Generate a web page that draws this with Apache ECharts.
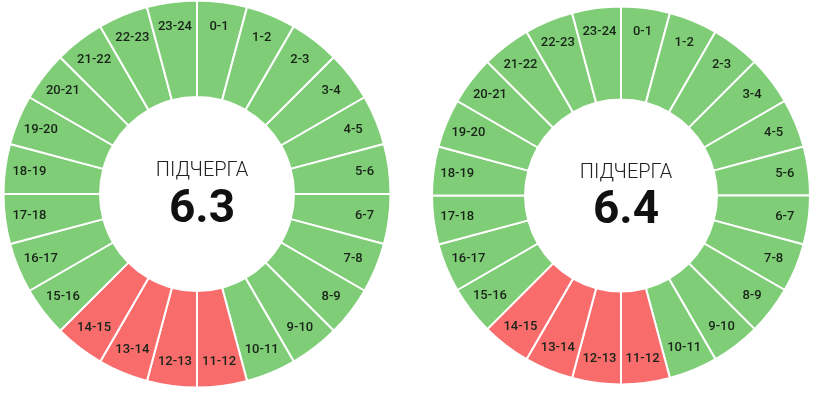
<!DOCTYPE html>
<html>
<head>
<meta charset="utf-8">
<script src="https://cdn.jsdelivr.net/npm/echarts@6/dist/echarts.min.js"></script>
<style>
html,body{margin:0;padding:0;background:#fff;}
#chart{width:813px;height:395px;}
</style>
</head>
<body>
<div id="chart"></div>
<script>
// Hour slots
const hours = ['0-1','1-2','2-3','3-4','4-5','5-6','6-7','7-8','8-9','9-10','10-11','11-12',
               '12-13','13-14','14-15','15-16','16-17','17-18','18-19','19-20','20-21','21-22','22-23','23-24'];
// 1 = outage (red), 0 = power on (green)
const outage63 = [0,0,0,0,0,0,0,0,0,0,0,1,1,1,1,0,0,0,0,0,0,0,0,0];
const outage64 = [0,0,0,0,0,0,0,0,0,0,0,1,1,1,1,0,0,0,0,0,0,0,0,0];
const groupTitle = 'ПІДЧЕРГА';
const groupNames = ['6.3', '6.4'];

const GREEN = '#7fcd77';
const RED = '#f96c6c';

const charts = [
  {outage: outage63, name: groupNames[0], center: [197, 194], r0: 97, r: 193.5},
  {outage: outage64, name: groupNames[1], center: [621, 195.5], r0: 96, r: 189}
];

const series = [];
const titles = [];
charts.forEach(c => {
  series.push({
    type: 'pie',
    center: c.center,
    radius: [c.r0, c.r],
    startAngle: 90,
    clockwise: true,
    silent: true,
    animation: false,
    label: {show: false},
    labelLine: {show: false},
    itemStyle: {borderColor: '#ffffff', borderWidth: 2},
    data: hours.map((h, i) => ({
      name: h, value: 1,
      itemStyle: {color: c.outage[i] ? RED : GREEN}
    }))
  });
  series.push({
    type: 'pie',
    center: c.center,
    radius: [c.r * 0.716, c.r],
    startAngle: 90,
    clockwise: true,
    silent: true,
    animation: false,
    itemStyle: {color: 'rgba(0,0,0,0)', borderWidth: 0},
    label: {
      show: true, position: 'inside', formatter: '{b}',
      color: '#182418', fontSize: 13, fontWeight: 500,
      fontFamily: 'Roboto'
    },
    labelLine: {show: false},
    data: hours.map(h => ({name: h, value: 1}))
  });
  titles.push({
    text: groupTitle,
    left: c.center[0], top: c.center[1] - 38,
    textAlign: 'center',
    textStyle: {fontFamily: 'Roboto', fontWeight: 300, fontSize: 20, color: '#222'}
  });
  titles.push({
    text: c.name,
    left: c.center[0], top: c.center[1] - 12,
    textAlign: 'center',
    textStyle: {fontFamily: 'Roboto', fontWeight: 'bold', fontSize: 46, color: '#111'}
  });
});

const chart = echarts.init(document.getElementById('chart'));
chart.setOption({
  animation: false,
  title: titles,
  series: series
});
</script>
</body>
</html>
